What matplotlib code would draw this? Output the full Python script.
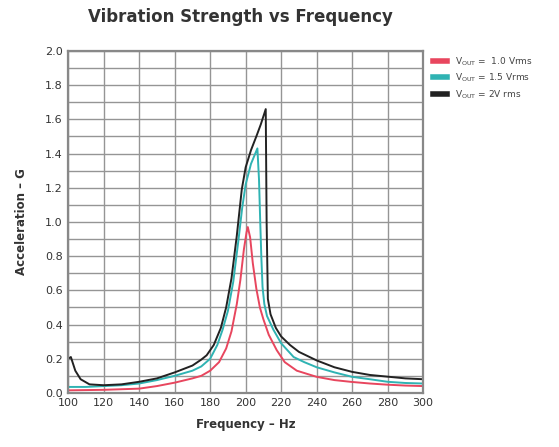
import matplotlib
matplotlib.use("Agg")
import matplotlib.pyplot as plt
from matplotlib.lines import Line2D

# values
freq_red = [100, 120, 140, 150, 160, 170, 175, 180, 185, 189, 192, 195, 197, 199, 200.5, 201.2,
            202.5, 204, 206, 208, 210, 213, 217.5, 222, 228.8, 235, 240, 250, 260, 270, 280, 290, 300]
acc_red = [0.015, 0.018, 0.025, 0.04, 0.06, 0.085, 0.1, 0.13, 0.18, 0.26, 0.36, 0.52, 0.66, 0.84, 0.94, 0.97,
           0.91, 0.76, 0.61, 0.5, 0.43, 0.34, 0.25, 0.18, 0.13, 0.11, 0.094, 0.075, 0.064, 0.055, 0.048,
           0.043, 0.04]

freq_cyan = [100, 110, 120, 130, 140, 150, 160, 170, 175, 180, 184, 187, 190, 193, 196, 198, 200,
             203, 206.6, 207.5, 208.2, 208.8, 209.5, 210.5, 212, 215.6, 220, 227, 233, 240, 250, 260,
             270, 280, 290, 300]
acc_cyan = [0.035, 0.035, 0.04, 0.045, 0.055, 0.075, 0.1, 0.13, 0.155, 0.2, 0.28, 0.37, 0.48, 0.65,
            0.9, 1.08, 1.22, 1.34, 1.43, 1.25, 1.0, 0.8, 0.62, 0.52, 0.45, 0.37, 0.29, 0.21, 0.18, 0.15,
            0.12, 0.094, 0.08, 0.065, 0.058, 0.055]

freq_black = [100, 101.5, 104, 107, 112, 120, 130, 140, 150, 160, 170, 175, 178, 182, 186, 189, 192,
              195, 197.8, 200, 203, 206, 208.5, 211.3, 211.8, 212.5, 214, 217, 220, 225, 230, 240, 250,
              260, 270, 280, 290, 300]
acc_black = [0.2, 0.21, 0.13, 0.08, 0.05, 0.045, 0.05, 0.065, 0.085, 0.12, 0.16, 0.195, 0.22, 0.28, 0.38,
             0.5, 0.67, 0.92, 1.19, 1.32, 1.42, 1.5, 1.57, 1.66, 1.0, 0.55, 0.46, 0.38, 0.33, 0.28, 0.24,
             0.19, 0.15, 0.123, 0.105, 0.095, 0.085, 0.08]

labels = [r"V$_{\mathrm{OUT}}$ =  1.0 Vrms", r"V$_{\mathrm{OUT}}$ = 1.5 Vrms", r"V$_{\mathrm{OUT}}$ = 2V rms"]
colors = ["#e8465e", "#2fb3b3", "#222222"]

fig = plt.figure(figsize=(5.59, 4.47), dpi=100)
ax = fig.add_axes([0.122, 0.121, 0.635, 0.765])

ax.plot(freq_red, acc_red, color=colors[0], lw=1.4)
ax.plot(freq_cyan, acc_cyan, color=colors[1], lw=1.4)
ax.plot(freq_black, acc_black, color=colors[2], lw=1.4)

ax.set_xlim(100, 300)
ax.set_ylim(0, 2.0)
ax.set_xticks(range(100, 301, 20))
ax.set_yticks([i / 10 for i in range(0, 21, 2)])
ax.set_yticks([i / 10 for i in range(0, 21)], minor=True)
ax.set_yticklabels(["%.1f" % (i / 10) for i in range(0, 21, 2)])
ax.tick_params(which="both", length=0, labelsize=8, labelcolor="#333333", pad=4)
ax.grid(True, which="both", color="#959595", lw=1.0)
ax.set_axisbelow(True)
for s in ax.spines.values():
    s.set_color("#888888")
    s.set_linewidth(1.6)

ax.set_xlabel("Frequency – Hz", fontsize=8.5, fontweight="bold", color="#333333", labelpad=7)
ax.set_ylabel("Acceleration – G", fontsize=8.5, fontweight="bold", color="#333333", labelpad=12)
fig.text(0.43, 0.962, "Vibration Strength vs Frequency", ha="center", va="center",
         fontsize=12, fontweight="bold", color="#333333")

handles = [Line2D([], [], color=c, lw=4) for c in colors]
fig.legend(handles, labels, loc="upper left", bbox_to_anchor=(0.76, 0.895), frameon=False,
           fontsize=6.5, handlelength=1.6, handletextpad=0.8, labelspacing=0.45,
           labelcolor="#444444")

fig.savefig("out.png", dpi=100)
